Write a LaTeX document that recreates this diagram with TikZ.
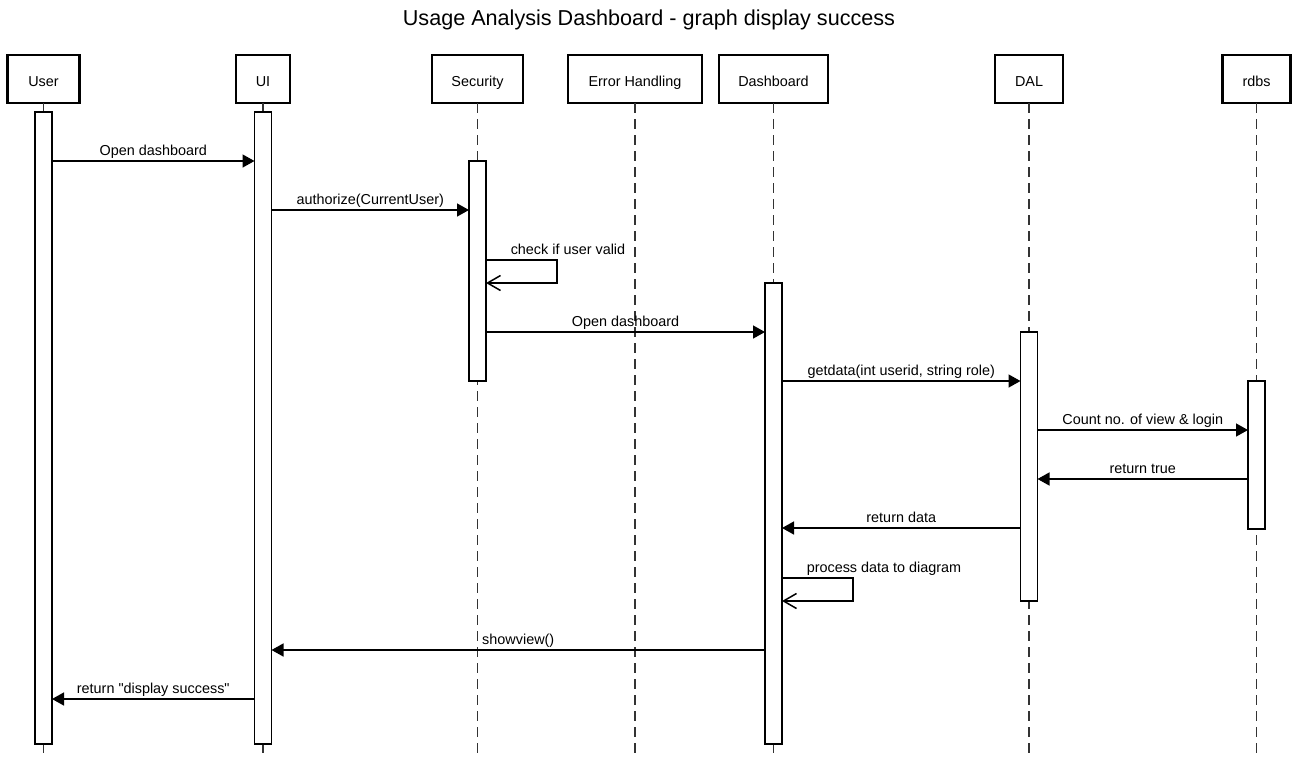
\documentclass[tikz,border=0pt]{standalone}
\usepackage{fontspec}
\setmainfont{Liberation Sans}[Ligatures=TeXOff]
\usetikzlibrary{arrows.meta,positioning,calc}

\begin{document}
\begin{tikzpicture}[x = 1pt, y = -1pt, > = {Triangle[length=12pt,width=13pt]}, font = \fontsize{14.4}{17}\selectfont]
                       \tikzstyle{head}=[rectangle, draw, line width=2.7pt, minimum height=48pt, inner sep=0pt, outer sep=0pt, text height=14pt, text depth=0pt]
                       \tikzstyle{act}=[rectangle, draw, fill=white, line width=1.3pt, minimum width=17pt, inner sep=0pt, outer sep=0pt]
                       \tikzstyle{life}=[line width=1.5pt, black!80, dash pattern=on 10pt off 6pt]
                       \tikzstyle{msg}=[->, line width=1.5pt]
                       \tikzstyle{self}=[-{Straight Barb[length=13pt,width=15pt]}, line width=1.5pt]
                       \tikzstyle{lbl}=[anchor=base, inner sep=0pt, yshift=6pt]

                        \useasboundingbox (0,0) rectangle (1298,761);

                        % Titulo
                        \node[anchor=base, font=\fontsize{21.6}{26}\selectfont] (title) at (649,25) {Usage Analysis Dashboard - graph display success};

                        % Participantes
                        \node[head, minimum width=72pt] (user) at (43.5,79) {User};
                        \node[head, minimum width=54pt] (ui) at (263,79) {UI};
                        \node[head, minimum width=91pt] (sec) at (477.5,79) {Security};
                        \node[head, minimum width=134pt] (err) at (635,79) {Error Handling};
                        \node[head, minimum width=109pt] (dash) at (773.5,79) {Dashboard};
                        \node[head, minimum width=68pt] (dal) at (1029,79) {DAL};
                        \node[head, minimum width=68pt] (rdbs) at (1256.5,79) {rdbs};

                        % Linhas de vida
                        \draw[life] (user.south) -- (user.south |- 0,757);
                        \draw[life] (ui.south) -- (ui.south |- 0,757);
                        \draw[life] (sec.south) -- (sec.south |- 0,757);
                        \draw[life] (err.south) -- (err.south |- 0,757);
                        \draw[life] (dash.south) -- (dash.south |- 0,757);
                        \draw[life] (dal.south) -- (dal.south |- 0,757);
                        \draw[life] (rdbs.south) -- (rdbs.south |- 0,757);

                        % Ativacoes
                        \node[act, minimum height=632pt] (aUser) at (43.5,428) {};
                        \node[act, minimum height=632pt] (aUI) at (263,428) {};
                        \node[act, minimum height=220pt] (aSec) at (477.5,271) {};
                        \node[act, minimum height=461pt] (aDash) at (773.5,513.5) {};
                        \node[act, minimum height=269pt] (aDAL) at (1029,466.5) {};
                        \node[act, minimum height=148pt] (aRdbs) at (1256.5,455) {};

                        % Mensagens
                        \draw[msg] (aUser.east |- 0,161) -- node[lbl] {Open dashboard} (aUI.west |- 0,161);
                        \draw[msg] (aUI.east |- 0,210) -- node[lbl] {authorize(CurrentUser)} (aSec.west |- 0,210);
                        \draw[self] (aSec.east |- 0,260) node[lbl, anchor=base west, xshift=24pt] {check if user valid} -- ++(71,0) -- ++(0,23) -- (aSec.east |- 0,283);
                        \draw[msg] (aSec.east |- 0,332) -- node[lbl] {Open dashboard} (aDash.west |- 0,332);
                        \draw[msg] (aDash.east |- 0,381) -- node[lbl] {getdata(int userid, string role)} (aDAL.west |- 0,381);
                        \draw[msg] (aDAL.east |- 0,430) -- node[lbl] {Count no. of view \& login} (aRdbs.west |- 0,430);
                        \draw[msg] (aRdbs.west |- 0,479) -- node[lbl] {return true} (aDAL.east |- 0,479);
                        \draw[msg] (aDAL.west |- 0,528) -- node[lbl] {return data} (aDash.east |- 0,528);
                        \draw[self] (aDash.east |- 0,578) node[lbl, anchor=base west, xshift=24pt] {process data to diagram} -- ++(71,0) -- ++(0,23) -- (aDash.east |- 0,601);
                        \draw[msg] (aDash.west |- 0,650) -- node[lbl] {showview()} (aUI.east |- 0,650);
                        \draw[msg] (aUI.west |- 0,699) -- node[lbl] {return "display success"} (aUser.east |- 0,699);
                  \end{tikzpicture}
\end{document}
